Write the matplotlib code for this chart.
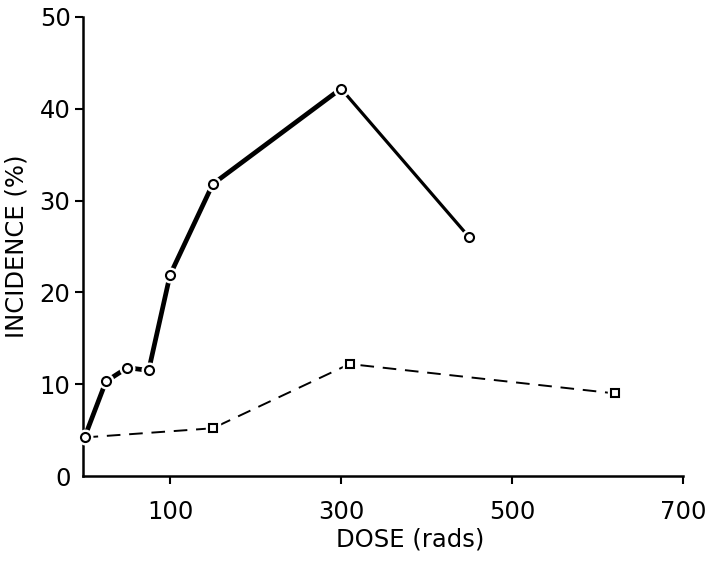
import matplotlib
matplotlib.use("Agg")
import matplotlib.pyplot as plt

# Data
dose_circles = [0, 25, 50, 75, 100, 150, 300, 450]
inc_circles = [4.2, 10.3, 11.8, 11.5, 21.9, 31.8, 42.2, 26.0]
dose_squares = [0, 150, 310, 620]
inc_squares = [4.2, 5.2, 12.2, 9.0]
xticks = [100, 300, 500, 700]
yticks = [0, 10, 20, 30, 40, 50]

plt.rcParams['font.family'] = ['DejaVu Sans']

W, H = 712, 561
fig = plt.figure(figsize=(W / 100, H / 100), dpi=100)
ax = fig.add_axes([83 / W, (H - 476) / H, (683 - 83) / W, (476 - 17) / H])
ax.set_xlim(-1.8, 700)
ax.set_ylim(0, 50)

# solid curve: thick up to 300, thinner afterwards
ax.plot(dose_circles[:7], inc_circles[:7], color='black', lw=3.4,
        solid_capstyle='butt', zorder=2)
ax.plot(dose_circles[6:], inc_circles[6:], color='black', lw=2.3,
        solid_capstyle='butt', zorder=2)
# dashed curve
ax.plot(dose_squares, inc_squares, color='black', lw=1.4,
        dashes=(7, 4.5), zorder=2)

# white halos to create small gaps around markers
ax.plot(dose_circles, inc_circles, linestyle='none', marker='o',
        markersize=10.5, markerfacecolor='white', markeredgecolor='white',
        zorder=3, clip_on=False)
ax.plot(dose_squares[1:], inc_squares[1:], linestyle='none', marker='s',
        markersize=9.5, markerfacecolor='white', markeredgecolor='white',
        zorder=3, clip_on=False)
# markers
ax.plot(dose_circles, inc_circles, linestyle='none', marker='o',
        markersize=6.5, markerfacecolor='white', markeredgecolor='black',
        markeredgewidth=1.5, zorder=4, clip_on=False)
ax.plot(dose_squares[1:], inc_squares[1:], linestyle='none', marker='s',
        markersize=6, markerfacecolor='white', markeredgecolor='black',
        markeredgewidth=1.5, zorder=4, clip_on=False)

for s in ['top', 'right']:
    ax.spines[s].set_visible(False)
for s in ['left', 'bottom']:
    ax.spines[s].set_linewidth(1.8)

ax.set_xticks(xticks)
ax.set_xticklabels([str(v) for v in xticks])
ax.set_yticks(yticks)
ax.set_yticklabels([str(v) for v in yticks])
ax.tick_params(axis='both', direction='out', length=6, width=1.5,
               labelsize=17.5)
ax.tick_params(axis='x', pad=11)
ax.tick_params(axis='y', pad=3)
# hide the y tick mark at 0 (reference has only the label)
ax.yaxis.get_major_ticks()[0].tick1line.set_visible(False)

ax.set_xlabel('DOSE (rads)', fontsize=17.5)
ax.xaxis.set_label_coords(0.545, -0.112)
ax.set_ylabel('INCIDENCE (%)', fontsize=17.5)
ax.yaxis.set_label_coords(-0.09, 0.5)

fig.savefig('out.png', dpi=100, facecolor='white')
